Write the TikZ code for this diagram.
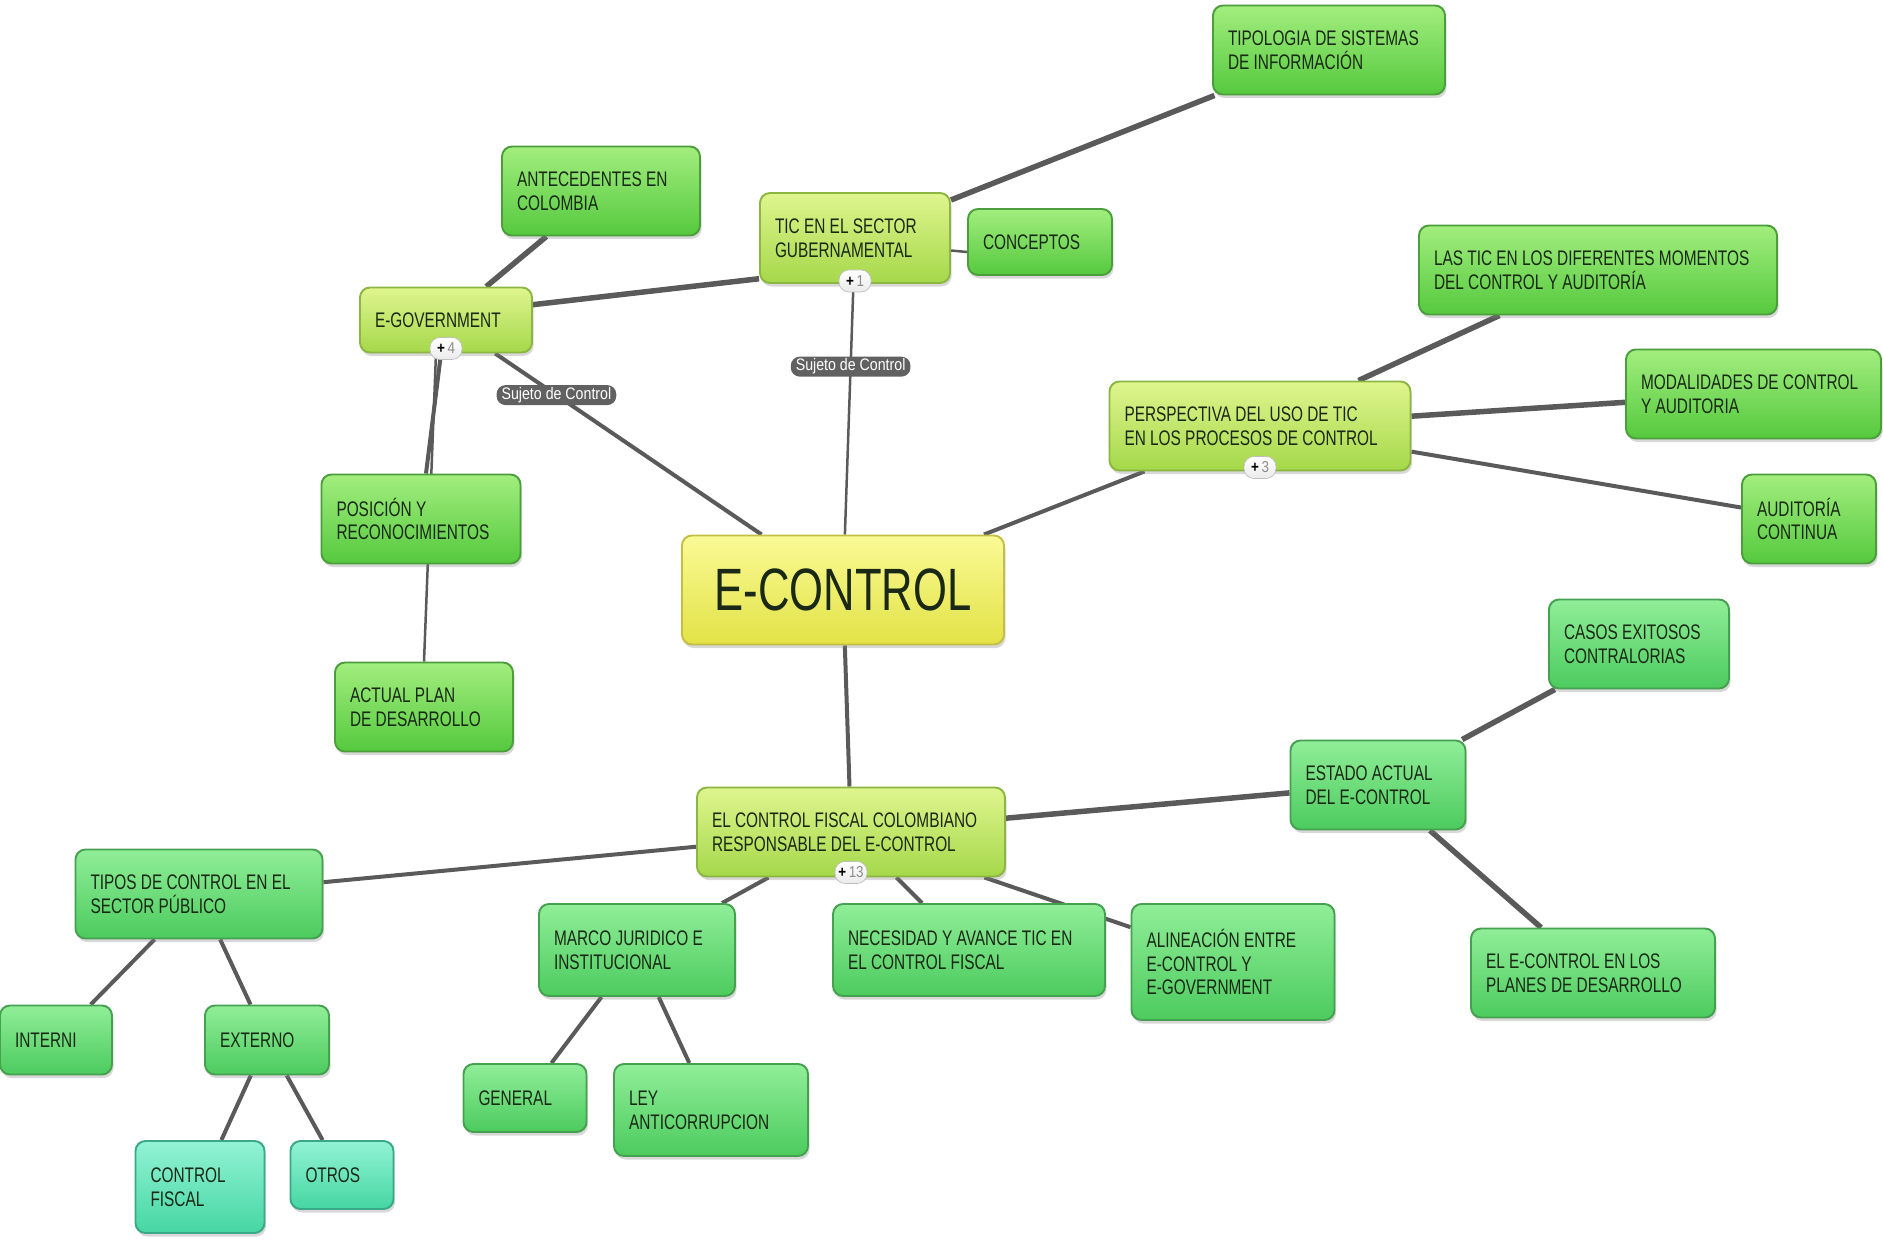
\documentclass[tikz,border=0pt]{standalone}
\usepackage{fontspec}
\setmainfont{Liberation Sans}[FakeStretch=0.73]
\newfontfamily\labelfont{Liberation Sans}[FakeStretch=0.85]
\usetikzlibrary{positioning,shadows,backgrounds}

\definecolor{leaftop}{HTML}{A2EE7E}
\definecolor{leafbot}{HTML}{55C93E}
\definecolor{leafline}{HTML}{4C9E3C}
\definecolor{minttop}{HTML}{90EE98}
\definecolor{mintbot}{HTML}{4CCB5E}
\definecolor{mintline}{HTML}{45A050}
\definecolor{limetop}{HTML}{DFF58E}
\definecolor{limebot}{HTML}{A5D84A}
\definecolor{limeline}{HTML}{8DB542}
\definecolor{yellowtop}{HTML}{FAFA96}
\definecolor{yellowbot}{HTML}{E2E246}
\definecolor{yellowline}{HTML}{C4BE45}
\definecolor{tealtop}{HTML}{92F3D4}
\definecolor{tealbot}{HTML}{45D6A3}
\definecolor{tealline}{HTML}{3AA887}
\definecolor{textdark}{HTML}{1A2816}
\definecolor{linkgray}{HTML}{5A5A5A}

\begin{document}
\begin{tikzpicture}[mapbox/.style={rectangle,
					rounded corners=0.2cm,
					line width=1.1pt,
					align=flush left,
					inner xsep=0.3cm,
					minimum height=1.78cm,
					font=\fontsize{12}{13.5}\selectfont,
					text=textdark,
					drop shadow={shadow xshift=0.03cm, shadow yshift=-0.07cm, opacity=0.3}},
					greenbox/.style={mapbox, draw=leafline, top color=leaftop, bottom color=leafbot},
					mintbox/.style={mapbox, draw=mintline, top color=minttop, bottom color=mintbot},
					limebox/.style={mapbox, draw=limeline, top color=limetop, bottom color=limebot},
					yellowbox/.style={mapbox, draw=yellowline, top color=yellowtop, bottom color=yellowbot},
					tealbox/.style={mapbox, draw=tealline, top color=tealtop, bottom color=tealbot},
					badge/.style={rectangle,
					rounded corners=0.2cm,
					draw=black!25,
					top color=white,
					bottom color=black!8,
					minimum width=0.64cm,
					minimum height=0.44cm,
					inner sep=0.05cm,
					font=\labelfont\fontsize{9}{10}\selectfont},
					subject/.style={rectangle,
					rounded corners=0.18cm,
					fill=black!62,
					text=white,
					inner xsep=0.1cm,
					inner ysep=0.02cm,
					minimum height=0.4cm,
					font=\labelfont\fontsize{9.5}{10}\selectfont},
					link/.style={draw=linkgray, line width=0.08cm},
					heavylink/.style={draw=linkgray, line width=0.11cm},
					lightlink/.style={draw=linkgray, line width=0.05cm}
					]

\path[use as bounding box] (0,0) rectangle (37.66,-24.80);

%centre node
\node[yellowbox, minimum width=6.44cm, minimum height=2.18cm, font=\fontsize{34}{36}\selectfont] (ectrl) at (16.86,-11.80) {E-CONTROL};

% e-government branch
\node[limebox, text width=2.84cm, minimum height=1.30cm] (egov) [above of = ectrl, node distance = 5.40cm, xshift=-7.94cm] {E-GOVERNMENT};
\node[greenbox, text width=3.36cm] (antec) [right of = egov, node distance = 3.10cm, yshift=2.58cm] {ANTECEDENTES EN\\COLOMBIA};
\node[greenbox, text width=3.38cm] (posic) [below of = egov, node distance = 3.98cm, xshift=-0.50cm] {POSICIÓN Y\\RECONOCIMIENTOS};
\node[greenbox, text width=2.96cm] (plan) [below of = posic, node distance = 3.76cm, xshift=0.06cm] {ACTUAL PLAN\\DE DESARROLLO};

% tic branch
\node[limebox, text width=3.20cm, minimum height=1.80cm] (tic) [above of = ectrl, node distance = 7.04cm, xshift=0.24cm] {TIC EN EL SECTOR\\GUBERNAMENTAL};
\node[greenbox, text width=4.04cm] (tipo) [right of = tic, node distance = 9.48cm, yshift=3.76cm] {TIPOLOGIA DE SISTEMAS\\DE INFORMACIÓN};
\node[greenbox, text width=2.28cm, minimum height=1.32cm] (concep) [right of = tic, node distance = 3.70cm, yshift=-0.08cm] {CONCEPTOS};

% perspectiva branch
\node[limebox, text width=5.42cm] (persp) [right of = ectrl, node distance = 8.34cm, yshift=3.28cm] {PERSPECTIVA DEL USO DE TIC\\EN LOS PROCESOS DE CONTROL};
\node[greenbox, text width=6.56cm] (momentos) [right of = persp, node distance = 6.76cm, yshift=3.12cm] {LAS TIC EN LOS DIFERENTES MOMENTOS\\DEL CONTROL Y AUDITORÍA};
\node[greenbox, text width=4.50cm] (modal) [right of = persp, node distance = 9.87cm, yshift=0.64cm] {MODALIDADES DE CONTROL\\Y AUDITORIA};
\node[greenbox, text width=2.08cm] (audit) [right of = persp, node distance = 10.98cm, yshift=-1.86cm] {AUDITORÍA\\CONTINUA};

% control fiscal branch
\node[limebox, text width=5.56cm] (fiscal) [below of = ectrl, node distance = 4.84cm, xshift=0.16cm] {EL CONTROL FISCAL COLOMBIANO\\RESPONSABLE DEL E-CONTROL};
\node[mintbox, text width=2.90cm] (estado) [right of = fiscal, node distance = 10.54cm, yshift=0.94cm] {ESTADO ACTUAL\\DEL E-CONTROL};
\node[mintbox, text width=3.00cm] (casos) [right of = estado, node distance = 5.22cm, yshift=2.82cm] {CASOS EXITOSOS\\CONTRALORIAS};
\node[mintbox, text width=4.28cm] (planes) [right of = estado, node distance = 4.30cm, yshift=-3.76cm] {EL E-CONTROL EN LOS\\PLANES DE DESARROLLO};
\node[mintbox, text width=4.34cm] (tipos) [left of = fiscal, node distance = 13.04cm, yshift=-1.24cm] {TIPOS DE CONTROL EN EL\\SECTOR PÚBLICO};
\node[mintbox, text width=1.64cm, minimum height=1.38cm] (interni) [below of = tipos, node distance = 2.92cm, xshift=-2.86cm] {INTERNI};
\node[mintbox, text width=1.88cm, minimum height=1.38cm] (externo) [below of = tipos, node distance = 2.92cm, xshift=1.36cm] {EXTERNO};
\node[tealbox, text width=1.98cm, minimum height=1.84cm] (cfiscal) [below of = externo, node distance = 2.94cm, xshift=-1.34cm] {CONTROL\\FISCAL};
\node[tealbox, text width=1.46cm, minimum height=1.36cm] (otros) [below of = externo, node distance = 2.70cm, xshift=1.50cm] {OTROS};
\node[mintbox, text width=3.32cm, minimum height=1.84cm] (marco) [below of = fiscal, node distance = 2.36cm, xshift=-4.28cm] {MARCO JURIDICO E\\INSTITUCIONAL};
\node[mintbox, text width=1.86cm, minimum height=1.36cm] (general) [below of = marco, node distance = 2.96cm, xshift=-2.24cm] {GENERAL};
\node[mintbox, text width=3.28cm, minimum height=1.84cm] (ley) [below of = marco, node distance = 3.20cm, xshift=1.48cm] {LEY\\ANTICORRUPCION};
\node[mintbox, text width=4.84cm, minimum height=1.84cm] (neces) [below of = fiscal, node distance = 2.36cm, xshift=2.36cm] {NECESIDAD Y AVANCE TIC EN\\EL CONTROL FISCAL};
\node[mintbox, text width=3.46cm, minimum height=2.32cm] (alin) [below of = fiscal, node distance = 2.60cm, xshift=7.64cm] {ALINEACIÓN ENTRE\\E-CONTROL Y\\E-GOVERNMENT};

% collapsed counters
\node[badge] (egovmore) at ([yshift=0.1cm]egov.south) {\textbf{+}\,\textcolor{black!45}{4}};
\node[badge] (ticmore) at ([yshift=0.06cm]tic.south) {\textbf{+}\,\textcolor{black!45}{1}};
\node[badge] (perspmore) at ([yshift=0.08cm]persp.south) {\textbf{+}\,\textcolor{black!45}{3}};
\node[badge] (fiscalmore) at ([yshift=0.1cm]fiscal.south) {\textbf{+}\,\textcolor{black!45}{13}};

% connectors
\begin{scope}[on background layer]
\fill[white] (0,0) rectangle (37.66,-24.80);
\draw[link] (egov) -- node[subject, pos=0.23] {Sujeto de Control} (ectrl);
\draw[lightlink] (tic) -- node[subject, pos=0.33] {Sujeto de Control} (ectrl);
\draw[link] (ectrl) -- (persp);
\draw[link] (ectrl) -- (fiscal);

\draw[heavylink] (egov) -- (antec);
\draw[heavylink] (egov.10) -- (tic.203);
\draw[link] ([xshift=-0.1cm]egov.south) -- ([xshift=0.1cm]posic.north);
\draw[lightlink] ([xshift=-0.2cm]egov.south) -- (plan.north);

\draw[heavylink] (tic) -- (tipo);
\draw[lightlink] ([yshift=-0.25cm]tic.east) -- ([yshift=-0.2cm]concep.west);

\draw[heavylink] (persp) -- (momentos);
\draw[heavylink] (persp) -- (modal);
\draw[link] (persp) -- (audit);

\draw[heavylink] (fiscal) -- (estado);
\draw[heavylink] (estado) -- (casos);
\draw[heavylink] (estado) -- (planes);
\draw[link] (fiscal) -- (tipos);
\draw[link] (fiscal) -- (marco);
\draw[link] (fiscal) -- (neces);
\draw[link] (fiscal) -- (alin);
\draw[link] (tipos) -- (interni);
\draw[link] (tipos) -- (externo);
\draw[link] (externo) -- (cfiscal);
\draw[link] (externo) -- (otros);
\draw[link] (marco) -- (general);
\draw[link] (marco) -- (ley);
\end{scope}

\end{tikzpicture}
\end{document}
